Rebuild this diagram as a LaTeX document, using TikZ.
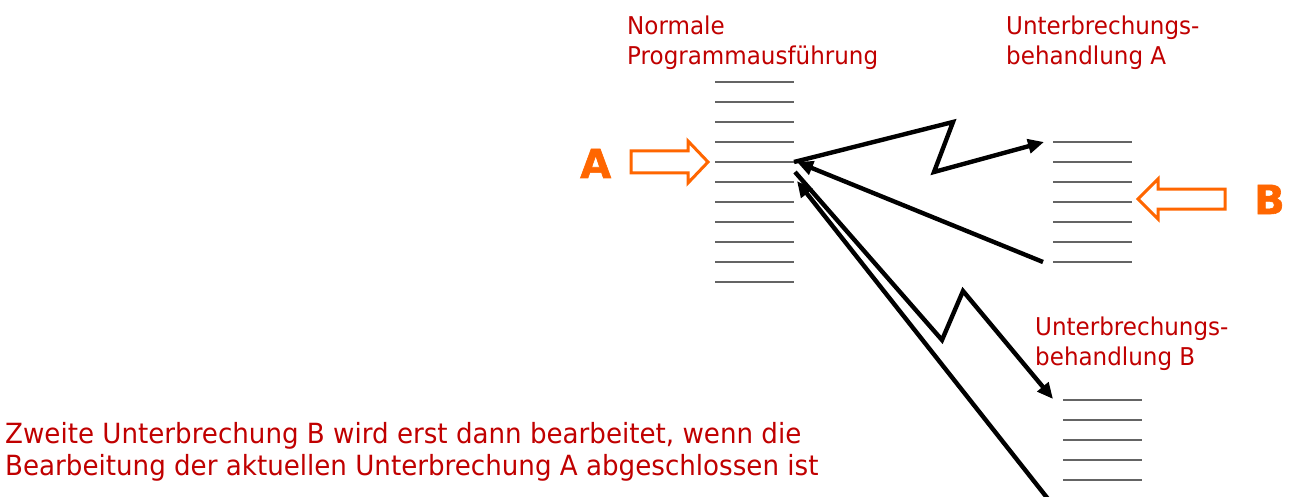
\documentclass[tikz,border=0pt]{standalone}
\usepackage{fontspec}
\setmainfont{DejaVu Sans}
\newfontfamily\tfont[FakeStretch=0.94]{DejaVu Sans}
\newfontfamily\lfont[FakeStretch=1.0,FakeBold=1.5]{DejaVu Sans Bold}
\usetikzlibrary{arrows.meta}
\definecolor{tred}{RGB}{192,0,0}
\definecolor{torange}{RGB}{255,102,0}
\definecolor{tgray}{RGB}{100,100,100}
\begin{document}
\begin{tikzpicture}[x=1pt,y=-1pt,
  lbl/.style={text=tred,font=\tfont\fontsize{24.5}{29}\selectfont,anchor=base west,inner sep=0pt,align=left},
  big/.style={text=tred,font=\tfont\fontsize{27.8}{32}\selectfont,anchor=base west,inner sep=0pt},
  letter/.style={text=torange,font=\lfont\fontsize{40}{40}\selectfont,anchor=base west,inner sep=0pt},
  codeline/.style={draw=tgray,line width=2pt},
  hollow/.style={draw=torange,line width=3pt,fill=white,line join=miter},
  flow/.style={draw=black,line width=4.4pt,line join=miter,-{Triangle[length=16pt,width=14pt]}}]
\clip (0,0) rectangle (1289,497);
\useasboundingbox (0,0) rectangle (1289,497);
% labels
\node[lbl] (tmain1) at (627,35) {Normale};
\node[lbl] (tmain2) at (627,65) {Programmausführung};
\node[lbl] (tA1) at (1006,35) {Unterbrechungs-};
\node[lbl] (tA2) at (1006,65) {behandlung A};
\node[lbl] (tB1) at (1035,335) {Unterbrechungs-};
\node[lbl] (tB2) at (1035,365) {behandlung B};
\node[big] (n1) at (5,443) {Zweite Unterbrechung B wird erst dann bearbeitet, wenn die};
\node[big] (n2) at (5,475) {Bearbeitung der aktuellen Unterbrechung A abgeschlossen ist};
% code lines
\foreach \i in {0,...,10} {\draw[codeline] (715,82+20*\i) -- (794,82+20*\i);}
\foreach \i in {0,...,6} {\draw[codeline] (1053,142+20*\i) -- (1132,142+20*\i);}
\foreach \i in {0,...,4} {\draw[codeline] (1063,400+20*\i) -- (1142,400+20*\i);}
% orange hollow arrows and letters
\node[letter] (la) at (580,178) {A};
\node[letter] (lb) at (1254,214) {B};
\draw[hollow] (631,151) -- (688,151) -- (688,141) -- (708,162) -- (688,183) -- (688,173) -- (631,173) -- cycle;
\draw[hollow] (1225,189) -- (1158,189) -- (1158,179) -- (1138,199) -- (1158,219) -- (1158,209) -- (1225,209) -- cycle;
% black connector coordinates
\coordinate (m1) at (794,162);
\coordinate (m1r) at (797,162);
\coordinate (m2) at (795,172);
\coordinate (m3) at (797,181);
\coordinate (z1a) at (953,122);
\coordinate (z1b) at (934,172);
\coordinate (aTop) at (1044,142);
\coordinate (aBot) at (1043,262);
\coordinate (z2a) at (942,340);
\coordinate (z2b) at (963,291);
\coordinate (bTop) at (1053,399);
\coordinate (bOut) at (1052,504);
\draw[flow] (m1) -- (z1a) -- (z1b) -- (aTop);
\draw[flow] (aBot) -- (m1r);
\draw[flow] (m2) -- (z2a) -- (z2b) -- (bTop);
\draw[flow] (bOut) -- (m3);
\end{tikzpicture}
\end{document}
